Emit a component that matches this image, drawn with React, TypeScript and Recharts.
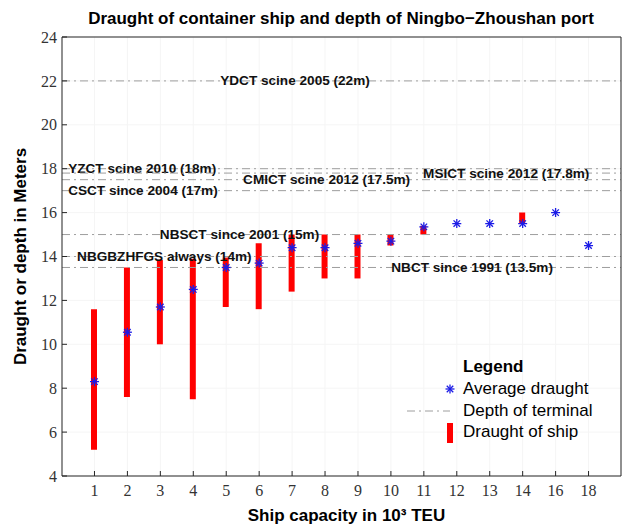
import React from "react";
import { Bar, CartesianGrid, ComposedChart, Line, ReferenceLine, XAxis, YAxis } from "recharts";

const CAPACITIES = ["1", "2", "3", "4", "5", "6", "7", "8", "9", "10", "11", "12", "13", "14", "16", "18"];
const DRAUGHT_MIN = [5.2, 7.6, 10.0, 7.5, 11.7, 11.6, 12.4, 13.0, 13.0, 14.5, 15.0, null, null, 15.5, null, null];
const DRAUGHT_MAX = [11.6, 13.5, 13.85, 13.9, 13.95, 14.6, 15.0, 15.0, 15.0, 15.0, 15.4, null, null, 16.0, null, null];
const AVG_DRAUGHT = [8.3, 10.55, 11.7, 12.5, 13.5, 13.7, 14.4, 14.4, 14.6, 14.7, 15.35, 15.5, 15.5, 15.5, 16.0, 14.5];
const Y_TICKS = [4, 6, 8, 10, 12, 14, 16, 18, 20, 22, 24];

const TERMINALS = [
  "YDCT scine 2005 (22m)",
  "YZCT scine 2010 (18m)",
  "MSICT scine 2012 (17.8m)",
  "CMICT scine 2012 (17.5m)",
  "CSCT since 2004 (17m)",
  "NBSCT since 2001 (15m)",
  "NBGBZHFGS always (14m)",
  "NBCT since 1991 (13.5m)",
];
const TERMINAL_DEPTHS = [22, 18, 17.8, 17.5, 17, 15, 14, 13.5];
// where each label starts, as a share of the plot width
const TERMINAL_LABEL_AT = [0.283, 0.011, 0.646, 0.324, 0.011, 0.175, 0.027, 0.589];

const BAR_COLOR = "#ff0000";
const STAR_COLOR = "#1c1ce6";
const DEPTH_COLOR = "#9e9e9e";
const AXIS_COLOR = "#262626";
const SANS = '"Liberation Sans", Arial, sans-serif';
const SERIF = '"Liberation Serif", "Times New Roman", serif';

const rows = CAPACITIES.map((cap, i) => ({
  cap,
  range: DRAUGHT_MIN[i] == null ? null : [DRAUGHT_MIN[i], DRAUGHT_MAX[i]],
  avg: AVG_DRAUGHT[i],
}));

function Star({ cx, cy, r = 4.5 }: { cx: number; cy: number; r?: number }) {
  const d = r * 0.72;
  return (
    <g stroke={STAR_COLOR} strokeWidth={1.3}>
      <line x1={cx - r} y1={cy} x2={cx + r} y2={cy} />
      <line x1={cx} y1={cy - r} x2={cx} y2={cy + r} />
      <line x1={cx - d} y1={cy - d} x2={cx + d} y2={cy + d} />
      <line x1={cx - d} y1={cy + d} x2={cx + d} y2={cy - d} />
    </g>
  );
}

const renderStar = (props: any) => {
  const { cx, cy, index } = props;
  if (cx == null || cy == null) return <g key={`s-${index}`} />;
  return <Star key={`s-${index}`} cx={cx} cy={cy} />;
};

const axisTick = { fontSize: 16, fontFamily: SERIF, fill: "#333333" };

export default function App() {
  return (
    <div style={{ position: "absolute", left: 0, top: 0, width: 622, height: 528, background: "#fff" }}>
      <div
        style={{
          position: "absolute",
          left: 341,
          top: 9,
          transform: "translateX(-50%)",
          whiteSpace: "nowrap",
          fontFamily: SANS,
          fontWeight: "bold",
          fontSize: 17,
          lineHeight: "20px",
          color: "#000",
        }}
      >
        Draught of container ship and depth of Ningbo−Zhoushan port
      </div>

      <ComposedChart width={622} height={528} data={rows} margin={{ top: 36, right: 0, bottom: 0, left: 0 }}>
        <CartesianGrid stroke="#f5f5f5" />
        <XAxis
          dataKey="cap"
          height={52}
          padding={{ left: 16, right: 16 }}
          tickSize={-5}
          tickMargin={14}
          tick={axisTick}
          stroke={AXIS_COLOR}
          interval={0}
          label={{
            value: "Ship capacity in 10³ TEU",
            position: "insideBottom",
            offset: 7,
            dx: 5,
            style: { fontFamily: SANS, fontWeight: "bold", fontSize: 17, fill: "#000" },
          }}
        />
        <XAxis
          xAxisId="top"
          dataKey="cap"
          orientation="top"
          height={1}
          padding={{ left: 16, right: 16 }}
          tickSize={-5}
          tick={false}
          stroke={AXIS_COLOR}
          interval={0}
        />
        <YAxis
          width={62}
          domain={[4, 24]}
          ticks={Y_TICKS}
          allowDataOverflow
          tickSize={-5}
          tickMargin={10}
          tick={axisTick}
          stroke={AXIS_COLOR}
          label={{
            value: "Draught or depth in Meters",
            angle: -90,
            position: "center",
            dx: -11,
            style: { fontFamily: SANS, fontWeight: "bold", fontSize: 17, fill: "#000", textAnchor: "middle" },
          }}
        />
        <YAxis
          yAxisId="right"
          orientation="right"
          width={1}
          domain={[4, 24]}
          ticks={Y_TICKS}
          tickSize={-5}
          tick={false}
          stroke={AXIS_COLOR}
        />

        {TERMINALS.map((name, i) => (
          <ReferenceLine
            key={name}
            y={TERMINAL_DEPTHS[i]}
            stroke={DEPTH_COLOR}
            strokeDasharray="8 4 2 4"
            label={(p: any) => {
              const vb = p.viewBox ?? p;
              return (
                <text
                  x={vb.x + TERMINAL_LABEL_AT[i] * vb.width}
                  y={vb.y}
                  dominantBaseline="central"
                  fontFamily={SANS}
                  fontWeight="bold"
                  fontSize={13.6}
                  fill="#111"
                >
                  {name}
                </text>
              );
            }}
          />
        ))}

        <Bar dataKey="range" barSize={6} fill={BAR_COLOR} isAnimationActive={false} />
        <Line
          dataKey="avg"
          stroke="none"
          dot={renderStar}
          activeDot={false}
          isAnimationActive={false}
        />
      </ComposedChart>

      <div
        style={{
          position: "absolute",
          left: 400,
          top: 354,
          width: 222,
          fontFamily: SANS,
          fontSize: 17,
          color: "#000",
        }}
      >
        <div style={{ position: "absolute", left: 63, top: 2, fontWeight: "bold", lineHeight: "22px" }}>Legend</div>
        <svg style={{ position: "absolute", left: 0, top: 24 }} width={60} height={70}>
          <Star cx={50} cy={11} />
          <line x1={7} y1={33} x2={50} y2={33} stroke={DEPTH_COLOR} strokeDasharray="8 4 2 4" />
          <rect x={47} y={45} width={6} height={20} fill={BAR_COLOR} />
        </svg>
        <div style={{ position: "absolute", left: 63, top: 24, lineHeight: "22px" }}>Average draught</div>
        <div style={{ position: "absolute", left: 63, top: 46, lineHeight: "22px" }}>Depth of terminal</div>
        <div style={{ position: "absolute", left: 63, top: 67, lineHeight: "22px" }}>Draught of ship</div>
      </div>
    </div>
  );
}
